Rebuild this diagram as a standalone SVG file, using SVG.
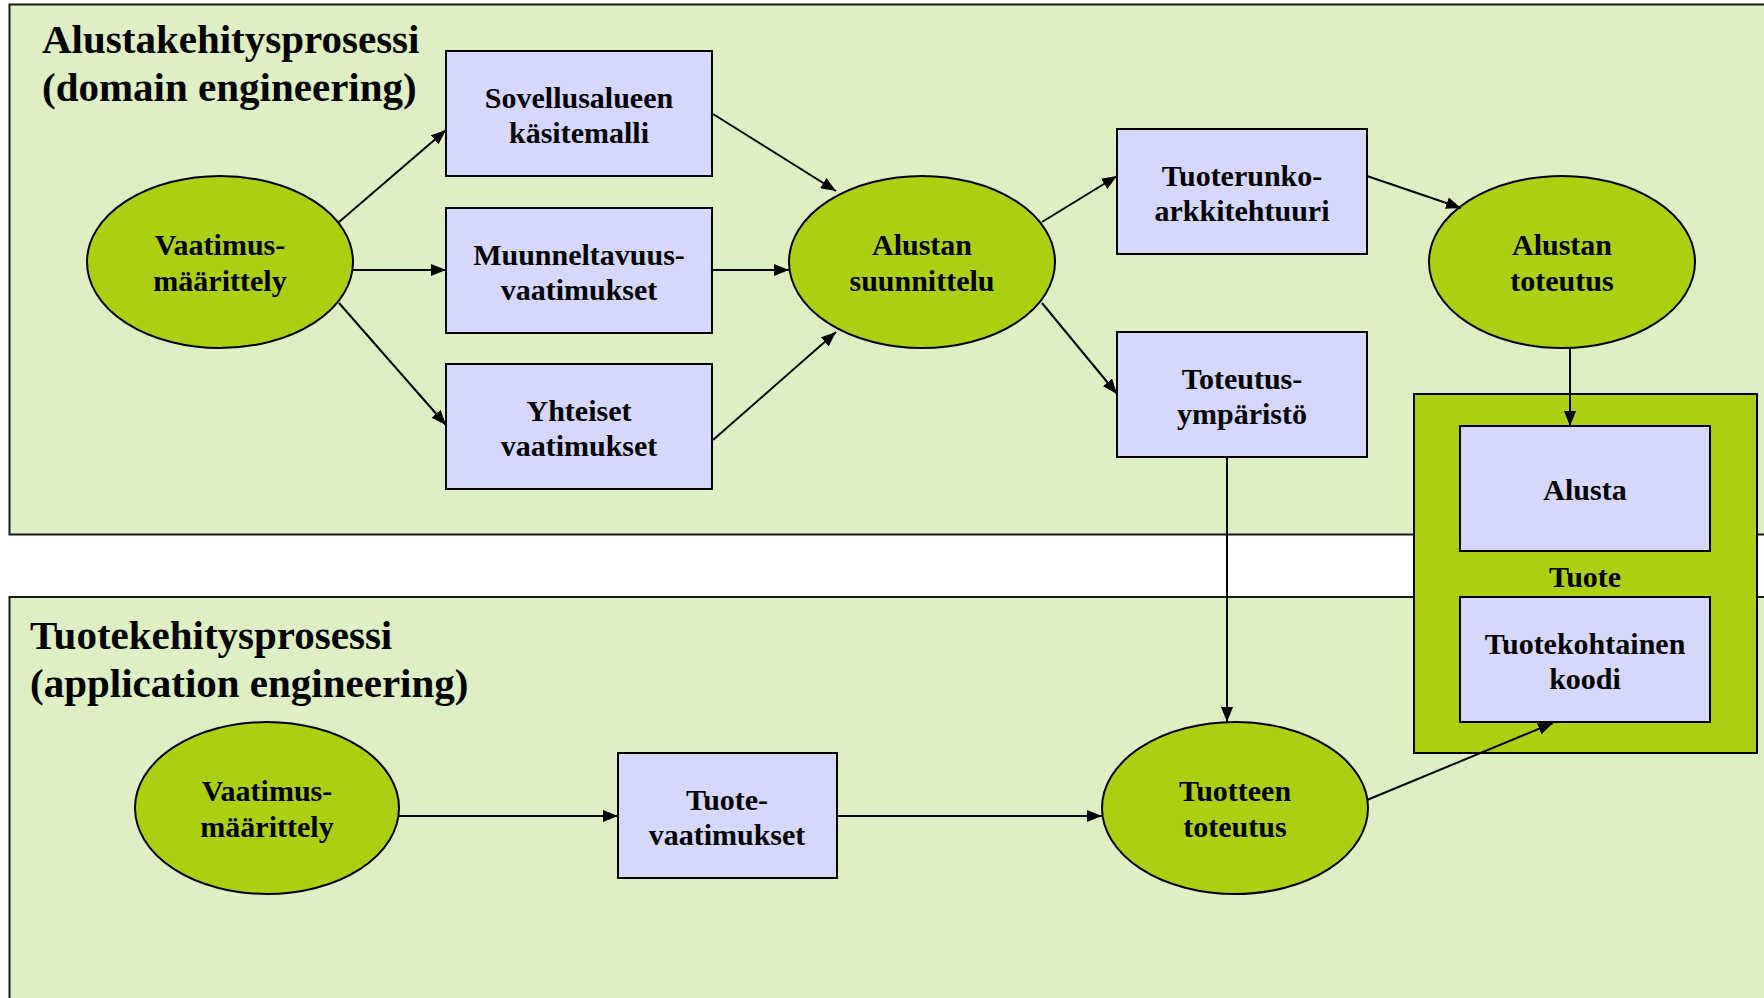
<svg xmlns="http://www.w3.org/2000/svg" width="1764" height="998" viewBox="0 0 1764 998">
<style>
.panel{fill:#deefc4;stroke:#1a1a1a;stroke-width:2}
.ell{fill:#aad011;stroke:#000;stroke-width:2}
.box{fill:#d5d7fd;stroke:#000;stroke-width:2}
.cont{fill:#aad011;stroke:#000;stroke-width:2}
.t{font-family:"Liberation Serif","Times New Roman",serif;font-weight:bold;font-size:30px;fill:#000;text-anchor:middle}
.title{font-family:"Liberation Serif","Times New Roman",serif;font-weight:bold;font-size:41px;fill:#000}
.c{stroke:#000;stroke-width:2;fill:none;marker-end:url(#arr)}
</style>
<defs>
<marker id="arr" markerUnits="userSpaceOnUse" markerWidth="16" markerHeight="12" refX="15" refY="6" orient="auto">
<path d="M0,0 L15,6 L0,12 z" fill="#000"/>
</marker>
</defs>
<rect width="1764" height="998" fill="#fff"/>
<g id="panel-domain">
<rect class="panel" x="9.5" y="4.5" width="1770" height="530"/>
<text class="title" x="42" y="53">Alustakehitysprosessi</text>
<text class="title" x="42" y="101">(domain engineering)</text>
</g>
<g id="panel-application">
<rect class="panel" x="9.5" y="597" width="1770" height="420"/>
<text class="title" x="30" y="649">Tuotekehitysprosessi</text>
<text class="title" x="30" y="697">(application engineering)</text>
</g>
<g id="tuote">
<rect class="cont" x="1414" y="394" width="343" height="359"/>
<text class="t" x="1585" y="587">Tuote</text>
</g>
<g id="vaatimus-top">
<ellipse class="ell" cx="220" cy="262" rx="133" ry="86"/>
<text class="t" x="220" y="255">Vaatimus-</text>
<text class="t" x="220" y="291">määrittely</text>
</g>
<g id="sovellusalueen">
<rect class="box" x="446" y="51" width="266" height="125"/>
<text class="t" x="579" y="108">Sovellusalueen</text>
<text class="t" x="579" y="143">käsitemalli</text>
</g>
<g id="muunneltavuus">
<rect class="box" x="446" y="208" width="266" height="125"/>
<text class="t" x="579" y="265">Muunneltavuus-</text>
<text class="t" x="579" y="300">vaatimukset</text>
</g>
<g id="yhteiset">
<rect class="box" x="446" y="364" width="266" height="125"/>
<text class="t" x="579" y="421">Yhteiset</text>
<text class="t" x="579" y="456">vaatimukset</text>
</g>
<g id="alustan-suunnittelu">
<ellipse class="ell" cx="922" cy="262" rx="133" ry="86"/>
<text class="t" x="922" y="255">Alustan</text>
<text class="t" x="922" y="291">suunnittelu</text>
</g>
<g id="tuoterunko">
<rect class="box" x="1117" y="129" width="250" height="125"/>
<text class="t" x="1242" y="186">Tuoterunko-</text>
<text class="t" x="1242" y="221">arkkitehtuuri</text>
</g>
<g id="toteutusymparisto">
<rect class="box" x="1117" y="332" width="250" height="125"/>
<text class="t" x="1242" y="389">Toteutus-</text>
<text class="t" x="1242" y="424">ympäristö</text>
</g>
<g id="alustan-toteutus">
<ellipse class="ell" cx="1562" cy="262" rx="133" ry="86"/>
<text class="t" x="1562" y="255">Alustan</text>
<text class="t" x="1562" y="291">toteutus</text>
</g>
<g id="alusta">
<rect class="box" x="1460" y="426" width="250" height="125"/>
<text class="t" x="1585" y="500">Alusta</text>
</g>
<g id="tuotekohtainen">
<rect class="box" x="1460" y="597" width="250" height="125"/>
<text class="t" x="1585" y="654">Tuotekohtainen</text>
<text class="t" x="1585" y="689">koodi</text>
</g>
<g id="vaatimus-bottom">
<ellipse class="ell" cx="267" cy="808" rx="132" ry="86"/>
<text class="t" x="267" y="801">Vaatimus-</text>
<text class="t" x="267" y="837">määrittely</text>
</g>
<g id="tuotevaatimukset">
<rect class="box" x="618" y="753" width="219" height="125"/>
<text class="t" x="727" y="810">Tuote-</text>
<text class="t" x="727" y="845">vaatimukset</text>
</g>
<g id="tuotteen-toteutus">
<ellipse class="ell" cx="1235" cy="808" rx="133" ry="86"/>
<text class="t" x="1235" y="801">Tuotteen</text>
<text class="t" x="1235" y="837">toteutus</text>
</g>
<g id="connectors">
<line class="c" x1="339" y1="222" x2="446" y2="130"/>
<line class="c" x1="353" y1="270" x2="446" y2="270"/>
<line class="c" x1="339" y1="303" x2="446" y2="425"/>
<line class="c" x1="713" y1="114" x2="836" y2="191"/>
<line class="c" x1="712" y1="270" x2="789" y2="270"/>
<line class="c" x1="713" y1="440" x2="836" y2="332"/>
<line class="c" x1="1042" y1="222" x2="1117" y2="176"/>
<line class="c" x1="1042" y1="303" x2="1117" y2="394"/>
<line class="c" x1="1367" y1="176" x2="1461" y2="208"/>
<line class="c" x1="1570" y1="348" x2="1570" y2="426"/>
<line class="c" x1="1227" y1="457" x2="1227" y2="722"/>
<line class="c" x1="399" y1="816" x2="618" y2="816"/>
<line class="c" x1="837" y1="816" x2="1102" y2="816"/>
<line class="c" x1="1367" y1="800" x2="1553" y2="723"/>
</g>
</svg>
